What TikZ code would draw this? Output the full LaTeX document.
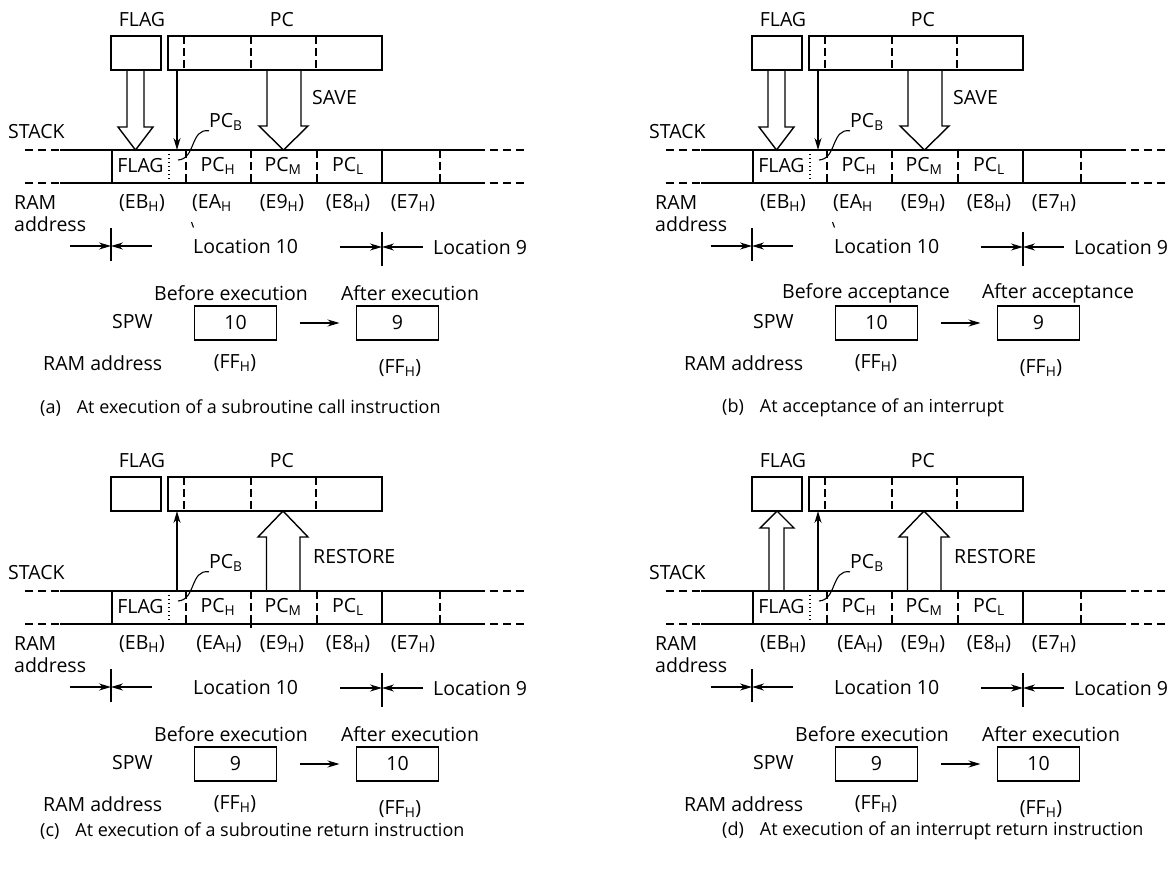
\documentclass[tikz,border=0pt]{standalone}
\usepackage{fontspec}
\setmainfont{Open Sans}
\usetikzlibrary{arrows.meta}
\newcommand\sbs[1]{\textsubscript{#1}}
\tikzset{
  ln/.style={line width=1.4pt},
  txt/.style={inner sep=0pt, font=\fontsize{19.5}{22}\selectfont},
  captxt/.style={inner sep=0pt, anchor=west, font=\fontsize{18}{21}\selectfont},
  regbox/.style={draw, line width=1.4pt, inner sep=0pt, outer sep=0pt, anchor=north west},
  valbox/.style={draw, line width=1.4pt, inner sep=0pt, outer sep=0pt, minimum width=82pt, minimum height=34pt, font=\fontsize{19.5}{22}\selectfont},
  dsh/.style={line width=1.4pt, dash pattern=on 8pt off 4pt},
  edsh/.style={line width=1.4pt, dash pattern=on 8pt off 5pt},
  dotl/.style={line width=1.3pt, dash pattern=on 1.3pt off 2.7pt},
  tarr/.style={line width=1.3pt, -{Stealth[length=12pt,width=7pt]}},
  hollow/.style={line width=1.4pt, line join=miter},
  thinl/.style={line width=1.1pt},
}
% #1 prefix, #2 before text, #3 after text, #4 value 1, #5 value 2, #6 x of before text, #7 x of after text
\newcommand\stackpanel[7]{%
  \node[txt] (#1lflag) at (142,20) {FLAG};
  \node[txt] (#1lpc) at (282,20) {PC};
  \node[regbox, minimum width=50pt, minimum height=34pt] (#1flag) at (111,36) {};
  \node[regbox, minimum width=214pt, minimum height=34pt] (#1pc) at (168,36) {};
  \draw[dsh] (184,36) -- (184,70);
  \draw[dsh] (251,36) -- (251,70);
  \draw[dsh] (316,36) -- (316,70);
  \node[txt, anchor=west] (#1stk) at (8,132) {STACK};
  \draw[edsh] (25,150) -- (60,150);
  \draw[ln] (60,150) -- (485,150);
  \draw[edsh] (490,150) -- (524,150);
  \draw[edsh] (25,183) -- (60,183);
  \draw[ln] (60,183) -- (485,183);
  \draw[edsh] (490,183) -- (524,183);
  \draw[ln] (112,150) -- (112,183);
  \draw[dotl] (169,150) -- (169,183);
  \draw[dsh] (186,150) -- (186,183);
  \draw[dsh] (251,150) -- (251,183);
  \draw[dsh] (317,150) -- (317,183);
  \draw[ln] (382,150) -- (382,183);
  \draw[dsh] (440,150) -- (440,183);
  \node[txt] (#1cflag) at (140.5,166) {FLAG};
  \node[txt] (#1cpch) at (218,166) {PC\sbs{H}};
  \node[txt] (#1cpcm) at (283,166) {PC\sbs{M}};
  \node[txt] (#1cpcl) at (348,166) {PC\sbs{L}};
  \coordinate (#1pcbs) at (178,160);
  \node[txt, anchor=west] (#1pcb) at (209,122) {PC\sbs{B}};
  \draw[thinl] (#1pcbs) .. controls (196,159) and (190,128) .. (#1pcb.south west);
  \node[txt, anchor=west] (#1ram) at (14,203) {RAM};
  \node[txt, anchor=west] (#1addr) at (14,224) {address};
  \node[txt] (#1eb) at (142,203) {(EB\sbs{H})};
  \node[txt] (#1e9) at (282,203) {(E9\sbs{H})};
  \node[txt] (#1e8) at (348,203) {(E8\sbs{H})};
  \node[txt] (#1e7) at (413,203) {(E7\sbs{H})};
  % location markers
  \coordinate (#1m1t) at (111,228); \coordinate (#1m1b) at (111,261);
  \coordinate (#1m1) at (111,246); \coordinate (#1m1l) at (70,246); \coordinate (#1m1r) at (152,246);
  \draw[ln] (#1m1t) -- (#1m1b);
  \draw[tarr] (#1m1l) -- (#1m1);
  \draw[tarr] (#1m1r) -- (#1m1);
  \node[txt, anchor=west] (#1loc10) at (193,246) {Location 10};
  \coordinate (#1m2t) at (382,232); \coordinate (#1m2b) at (382,266);
  \coordinate (#1m2) at (382,247); \coordinate (#1m2l) at (340,247); \coordinate (#1m2r) at (423,247);
  \draw[ln] (#1m2t) -- (#1m2b);
  \draw[tarr] (#1m2l) -- (#1m2);
  \draw[tarr] (#1m2r) -- (#1m2);
  \node[txt, anchor=west] (#1loc9) at (433,247) {Location 9};
  % SPW
  \node[txt] (#1bef) at (#6,293) {#2};
  \node[txt] (#1aft) at (#7,293) {#3};
  \node[txt, anchor=west] (#1spw) at (112,322) {SPW};
  \node[valbox] (#1v1) at (235.5,323) {#4};
  \node[valbox] (#1v2) at (397.5,323) {#5};
  \draw[tarr, shorten <=23pt, shorten >=17pt] (#1v1.east) -- (#1v2.west);
  \node[txt, anchor=west] (#1ramaddr) at (43,363) {RAM address};
  \node[txt] (#1ff1) at (235,363) {(FF\sbs{H})};
  \node[txt] (#1ff2) at (400,368) {(FF\sbs{H})};
}
\begin{document}
\begin{tikzpicture}[x=1pt, y=-1pt]
\useasboundingbox (0,0) rectangle (1172,869);
% (a)
\begin{scope}
  \stackpanel{a}{Before execution}{After execution}{10}{9}{231}{410}
  \draw[hollow] (127,70) -- (127,127) -- (118,127) -- (135.5,150) -- (153,127) -- (144,127) -- (144,70);
  \draw[hollow] (267,70) -- (267,126) -- (259,126) -- (283.5,150) -- (308,126) -- (301,126) -- (301,70);
  \coordinate (apcarr) at (177,70); \coordinate (astarr) at (177,150);
  \draw[tarr] (apcarr) -- (astarr);
  \node[txt, anchor=west] (asave) at (312,98) {SAVE};
  \node[txt, anchor=west] (aea) at (192,203) {(EA\sbs{H}};
  \draw[thinl] (191.5,222) -- (193.5,227.5);
\end{scope}
% (b)
\begin{scope}[shift={(641,0)}]
  \stackpanel{b}{Before acceptance}{After acceptance}{10}{9}{225}{417}
  \draw[hollow] (127,70) -- (127,127) -- (118,127) -- (135.5,150) -- (153,127) -- (144,127) -- (144,70);
  \draw[hollow] (267,70) -- (267,126) -- (259,126) -- (283.5,150) -- (308,126) -- (301,126) -- (301,70);
  \coordinate (bpcarr) at (177,70); \coordinate (bstarr) at (177,150);
  \draw[tarr] (bpcarr) -- (bstarr);
  \node[txt, anchor=west] (bsave) at (312,98) {SAVE};
  \node[txt, anchor=west] (bea) at (192,203) {(EA\sbs{H}};
  \draw[thinl] (191.5,222) -- (193.5,227.5);
\end{scope}
% (c)
\begin{scope}[shift={(0,441)}]
  \stackpanel{c}{Before execution}{After execution}{9}{10}{231}{410}
  \draw[hollow] (266.5,150) -- (266.5,96) -- (258,96) -- (283,70) -- (308,96) -- (300,96) -- (300,150);
  \coordinate (cpcarr) at (177,70); \coordinate (cstarr) at (177,150);
  \draw[tarr] (cstarr) -- (cpcarr);
  \node[txt, anchor=west] (crestore) at (313,116) {RESTORE};
  \node[txt] (cea) at (219,203) {(EA\sbs{H})};
  \draw[ln] (251,183) -- (251,187);
\end{scope}
% (d)
\begin{scope}[shift={(641,441)}]
  \stackpanel{d}{Before execution}{After execution}{9}{10}{231}{410}
  \draw[hollow] (128,150) -- (128,87) -- (119,87) -- (136,70) -- (153,87) -- (143,87) -- (143,150);
  \draw[hollow] (266.5,150) -- (266.5,96) -- (258,96) -- (283,70) -- (308,96) -- (300,96) -- (300,150);
  \coordinate (dpcarr) at (177,70); \coordinate (dstarr) at (177,150);
  \draw[tarr] (dstarr) -- (dpcarr);
  \node[txt, anchor=west] (drestore) at (313,116) {RESTORE};
  \node[txt] (dea) at (219,203) {(EA\sbs{H})};
\end{scope}
% captions
\node[captxt] (capa) at (40,408) {(a)\hspace{16pt}At execution of a subroutine call instruction};
\node[captxt] (capb) at (722,408) {(b)\hspace{16pt}At acceptance of an interrupt};
\node[captxt] (capc) at (40,831) {(c)\hspace{16pt}At execution of a subroutine return instruction};
\node[captxt] (capd) at (722,831) {(d)\hspace{16pt}At execution of an interrupt return instruction};
\end{tikzpicture}
\end{document}
